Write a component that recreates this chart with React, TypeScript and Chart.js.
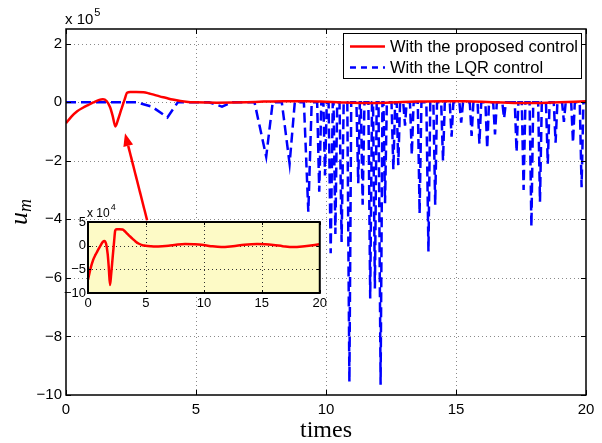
import React, { useEffect, useRef } from "react";
import { Chart, registerables } from "chart.js";
Chart.register(...registerables);

// ---------- data ----------
const xTicks = [0, 5, 10, 15, 20];
const yTicks = [-10, -8, -6, -4, -2, 0, 2]; // ×10^5
const insetXTicks = [0, 5, 10, 15, 20];
const insetYTicks = [-10, -5, 0, 5]; // ×10^4

const seriesLabels = ["With the proposed control", "With the LQR control"];

// proposed control, values in units of 10^4
const redT = [0, 0.2, 0.43, 0.65, 0.85, 1.05, 1.28, 1.42, 1.56, 1.7, 1.79, 1.9, 2.0, 2.13, 2.25, 2.35, 2.47, 2.7, 2.98, 3.2, 3.4, 3.6, 3.83, 4.1, 4.4, 4.7, 4.96, 5.4, 5.8, 6.4, 6.95, 7.6, 8.37, 9.1, 9.8, 10.6, 11.5, 12.5, 13.5, 14.6, 15.3, 16.0, 16.8, 17.7, 18.7, 20];
const redV = [-7.2, -5.0, -3.1, -1.9, -1.0, -0.1, 0.8, 1.0, 0.4, -1.8, -4.5, -8.3, -6.0, -2.4, 0.8, 3.2, 3.45, 3.45, 3.4, 3.0, 2.5, 2.0, 1.5, 0.9, 0.4, 0.1, 0.0, -0.1, -0.15, -0.1, 0.0, 0.2, 0.35, 0.3, 0.2, -0.1, -0.3, -0.1, 0.2, 0.35, 0.3, 0.15, -0.1, -0.3, -0.1, 0.3];

// LQR control, values in units of 10^5
const lqrT = [
  0, 2.7, 3.3, 3.9, 4.3, 5.5, 6.0, 6.4,
  7.25, 7.7, 7.95, 8.3, 8.6, 8.8, 9.15, 9.32, 9.45,
  9.66, 9.74, 9.82, 9.9, 9.96, 10.03, 10.1, 10.18, 10.26, 10.29, 10.36, 10.43,
  10.52, 10.6, 10.68, 10.82, 10.9, 10.97, 11.17, 11.24, 11.3, 11.34, 11.41, 11.48,
  11.63, 11.7, 11.77, 11.81, 11.88, 11.95, 12.02, 12.1, 12.17, 12.21, 12.27, 12.34,
  12.52, 12.59, 12.66, 12.72, 12.78, 12.85, 12.97, 13.04, 13.1, 13.23, 13.3, 13.37,
  13.53, 13.6, 13.67, 13.86, 13.94, 14.01, 14.13, 14.2, 14.27, 14.43, 14.5, 14.57,
  14.76, 14.83, 14.9, 15.13, 15.2, 15.27, 15.53, 15.6, 15.67, 15.83, 15.9, 15.97,
  16.13, 16.2, 16.27, 16.43, 16.5, 16.57, 16.78, 16.85, 16.92, 17.26, 17.33, 17.4,
  17.53, 17.6, 17.67, 17.83, 17.9, 17.97, 18.16, 18.23, 18.3, 18.46, 18.53, 18.6,
  18.76, 18.83, 18.9, 19.08, 19.15, 19.22, 19.43, 19.5, 19.57, 19.76, 19.83, 19.9, 20,
];
const lqrV = [
  0, 0, -0.15, -0.52, 0, 0, -0.15, 0,
  0, -1.86, 0, 0, -2.1, 0, 0, -3.74, 0,
  0, -3.06, 0, 0, -2.5, 0, 0, -5.16, 0, 0, -4.5, 0,
  0, -4.77, 0, 0, -9.55, 0, 0, -2.77, 0, 0, -3.5, 0,
  0, -6.7, 0, 0, -6.36, 0, 0, -9.65, 0, 0, -3.45, 0,
  0, -2.3, 0, 0, -2.15, 0, 0, -0.8, 0, 0, -1.8, 0,
  0, -3.8, 0, 0, -5.1, 0, 0, -3.5, 0, 0, -2.0, 0,
  0, -1.18, 0, 0, -0.7, 0, 0, -1.15, 0, 0, -1.42, 0,
  0, -1.58, 0, 0, -1.1, 0, 0, -0.55, 0, 0, -1.7, 0,
  0, -3.0, 0, 0, -4.25, 0, 0, -3.4, 0, 0, -2.1, 0,
  0, -1.38, 0, 0, -0.67, 0, 0, -1.38, 0, 0, -2.9, 0, 0,
];

// annotation arrow (data coordinates of the main axes, ×10^5)
const arrowFrom = { x: 3.12, y: -4.03 };
const arrowTo = { x: 2.27, y: -1.06 };

// ---------- helpers ----------
const SANS = '"Liberation Sans", Arial, sans-serif';
const SERIF = '"Liberation Serif", "Times New Roman", serif';
const fmt = (v: number) => (v < 0 ? "\u2212" + Math.abs(v) : String(v));
const crisp = (v: number) => Math.round(v) + 0.5;

function drawAxesDecor(chart: any, xt: number[], yt: number[], tickLen: number, frameW: number) {
  const { ctx, chartArea: a, scales } = chart;
  ctx.save();
  ctx.lineWidth = frameW;
  ctx.strokeStyle = "#000";
  ctx.setLineDash([]);
  ctx.strokeRect(a.left, a.top, a.right - a.left, a.bottom - a.top);
  ctx.lineWidth = 1;
  ctx.beginPath();
  xt.forEach((v) => {
    const x = crisp(scales.x.getPixelForValue(v));
    ctx.moveTo(x, a.bottom);
    ctx.lineTo(x, a.bottom - tickLen);
    ctx.moveTo(x, a.top);
    ctx.lineTo(x, a.top + tickLen);
  });
  yt.forEach((v) => {
    const y = crisp(scales.y.getPixelForValue(v));
    ctx.moveTo(a.left, y);
    ctx.lineTo(a.left + tickLen, y);
    ctx.moveTo(a.right, y);
    ctx.lineTo(a.right - tickLen, y);
  });
  ctx.stroke();
  ctx.restore();
}

function drawGrid(chart: any, xt: number[], yt: number[], color: string) {
  const { ctx, chartArea: a, scales } = chart;
  ctx.save();
  ctx.strokeStyle = color;
  ctx.lineWidth = 1;
  ctx.setLineDash([1, 3]);
  ctx.beginPath();
  xt.forEach((v) => {
    const x = crisp(scales.x.getPixelForValue(v));
    if (x - a.left < 2 || a.right - x < 2) return;
    ctx.moveTo(x, a.top);
    ctx.lineTo(x, a.bottom);
  });
  yt.forEach((v) => {
    const y = crisp(scales.y.getPixelForValue(v));
    if (y - a.top < 2 || a.bottom - y < 2) return;
    ctx.moveTo(a.left, y);
    ctx.lineTo(a.right, y);
  });
  ctx.stroke();
  ctx.restore();
}

function drawExponent(ctx: CanvasRenderingContext2D, x: number, y: number, base: string, exp: string, size: number, expSize: number) {
  ctx.save();
  ctx.fillStyle = "#000";
  ctx.textBaseline = "alphabetic";
  ctx.textAlign = "left";
  ctx.font = `${size}px ${SANS}`;
  ctx.fillText(base, x, y);
  const w = ctx.measureText(base).width;
  ctx.font = `${expSize}px ${SANS}`;
  ctx.fillText(exp, x + w + 1, y - size * 0.55);
  ctx.restore();
}

const mainPlugin = {
  id: "mainDecor",
  beforeDatasetsDraw(chart: any) {
    drawGrid(chart, xTicks, yTicks, "#8a8a8a");
  },
  afterDatasetsDraw(chart: any) {
    const { ctx, chartArea: a, scales } = chart;
    drawAxesDecor(chart, xTicks, yTicks, 5, 1.5);

    // arrow
    const x1 = scales.x.getPixelForValue(arrowFrom.x);
    const y1 = scales.y.getPixelForValue(arrowFrom.y);
    const x2 = scales.x.getPixelForValue(arrowTo.x);
    const y2 = scales.y.getPixelForValue(arrowTo.y);
    const ang = Math.atan2(y2 - y1, x2 - x1);
    const hl = 13, hw = 5;
    const bx = x2 - hl * Math.cos(ang), by = y2 - hl * Math.sin(ang);
    ctx.save();
    ctx.strokeStyle = "#ff0000";
    ctx.fillStyle = "#ff0000";
    ctx.lineWidth = 2.5;
    ctx.beginPath();
    ctx.moveTo(x1, y1);
    ctx.lineTo(bx, by);
    ctx.stroke();
    ctx.beginPath();
    ctx.moveTo(x2, y2);
    ctx.lineTo(bx + hw * Math.sin(ang), by - hw * Math.cos(ang));
    ctx.lineTo(bx - hw * Math.sin(ang), by + hw * Math.cos(ang));
    ctx.closePath();
    ctx.fill();
    ctx.restore();

    // legend
    const ds = chart.data.datasets;
    ctx.save();
    ctx.font = `16.5px ${SANS}`;
    const tw = Math.max(...ds.map((d: any) => ctx.measureText(d.label).width));
    const right = a.right - 5;
    const left = right - (47 + tw + 3);
    const top = a.top + 4;
    const h = 45;
    ctx.fillStyle = "#fff";
    ctx.fillRect(left, top, right - left, h);
    ctx.strokeStyle = "#000";
    ctx.lineWidth = 1;
    ctx.strokeRect(crisp(left), crisp(top), Math.round(right - left), h);
    ds.forEach((d: any, i: number) => {
      const cy = top + 13.5 + i * 21;
      ctx.strokeStyle = d.borderColor;
      ctx.lineWidth = 2.5;
      ctx.setLineDash(i === 1 ? [6, 5] : []);
      ctx.beginPath();
      ctx.moveTo(left + 7, cy);
      ctx.lineTo(left + 42, cy);
      ctx.stroke();
      ctx.setLineDash([]);
      ctx.fillStyle = "#000";
      ctx.textBaseline = "middle";
      ctx.textAlign = "left";
      ctx.fillText(d.label, left + 47, cy + 1);
    });
    ctx.restore();

    // exponent label
    drawExponent(ctx, a.left - 1, 24, "x 10", "5", 15, 11);

    // x title
    ctx.save();
    ctx.fillStyle = "#000";
    ctx.font = `24px ${SERIF}`;
    ctx.textAlign = "center";
    ctx.textBaseline = "alphabetic";
    ctx.fillText("times", (a.left + a.right) / 2, 437);
    ctx.restore();

    // y title u_m
    ctx.save();
    ctx.fillStyle = "#000";
    ctx.translate(27, (a.top + a.bottom) / 2);
    ctx.rotate(-Math.PI / 2);
    ctx.textBaseline = "alphabetic";
    ctx.textAlign = "left";
    ctx.font = `italic 26px ${SERIF}`;
    const uw = ctx.measureText("u").width;
    ctx.font = `italic 18px ${SERIF}`;
    const mw = ctx.measureText("m").width;
    const start = -(uw + mw) / 2;
    ctx.font = `italic 26px ${SERIF}`;
    ctx.fillText("u", start, 0);
    ctx.font = `italic 18px ${SERIF}`;
    ctx.fillText("m", start + uw, 4);
    ctx.restore();
  },
};

const insetPlugin = {
  id: "insetDecor",
  beforeDatasetsDraw(chart: any) {
    const { ctx, chartArea: a } = chart;
    ctx.save();
    ctx.fillStyle = "#fdfac6";
    ctx.fillRect(a.left, a.top, a.right - a.left, a.bottom - a.top);
    ctx.restore();
    drawGrid(chart, insetXTicks, insetYTicks, "#333");
  },
  afterDatasetsDraw(chart: any) {
    const { ctx, chartArea: a } = chart;
    drawAxesDecor(chart, insetXTicks, insetYTicks, 3, 2);
    drawExponent(ctx, a.left - 1, a.top - 5, "x 10", "4", 12, 9);
  },
};

export default function App() {
  const mainRef = useRef<HTMLCanvasElement>(null);
  const insetRef = useRef<HTMLCanvasElement>(null);

  useEffect(() => {
    const tickFont = { family: SANS, size: 15 };
    const main = new Chart(mainRef.current as HTMLCanvasElement, {
      type: "line",
      data: {
        datasets: [
          {
            label: seriesLabels[0],
            data: redT.map((t, i) => ({ x: t, y: redV[i] / 10 })),
            borderColor: "#ff0000",
            borderWidth: 2.5,
            pointRadius: 0,
            cubicInterpolationMode: "monotone",
            fill: false,
          },
          {
            label: seriesLabels[1],
            data: lqrT.map((t, i) => ({ x: t, y: lqrV[i] })),
            borderColor: "#0000ff",
            borderWidth: 2.5,
            borderDash: [10, 5],
            pointRadius: 0,
            tension: 0,
            fill: false,
          },
        ],
      },
      options: {
        animation: false,
        responsive: false,
        devicePixelRatio: 1,
        layout: { padding: { left: 0, right: 16, top: 29, bottom: 0 } },
        plugins: { legend: { display: false }, tooltip: { enabled: false } },
        scales: {
          x: {
            type: "linear",
            min: 0,
            max: 20,
            afterBuildTicks: (s: any) => { s.ticks = xTicks.map((v) => ({ value: v })); },
            afterFit: (s: any) => { s.height = 48; },
            grid: { display: false, drawTicks: false },
            border: { display: false },
            ticks: { font: tickFont, color: "#000", padding: 6, maxRotation: 0, autoSkip: false, callback: (v: any) => fmt(Number(v)) },
          },
          y: {
            type: "linear",
            min: -10,
            max: 2.5,
            afterBuildTicks: (s: any) => { s.ticks = yTicks.map((v) => ({ value: v })); },
            afterFit: (s: any) => { s.width = 66; },
            grid: { display: false, drawTicks: false },
            border: { display: false },
            ticks: { font: tickFont, color: "#000", padding: 4, autoSkip: false, callback: (v: any) => fmt(Number(v)) },
          },
        },
      },
      plugins: [mainPlugin],
    } as any);

    const insetFont = { family: SANS, size: 13 };
    const inset = new Chart(insetRef.current as HTMLCanvasElement, {
      type: "line",
      data: {
        datasets: [
          {
            label: seriesLabels[0],
            data: redT.map((t, i) => ({ x: t, y: redV[i] })),
            borderColor: "#ff0000",
            borderWidth: 2.5,
            pointRadius: 0,
            cubicInterpolationMode: "monotone",
            fill: false,
          },
        ],
      },
      options: {
        animation: false,
        responsive: false,
        devicePixelRatio: 1,
        layout: { padding: { left: 0, right: 7, top: 24, bottom: 0 } },
        plugins: { legend: { display: false }, tooltip: { enabled: false } },
        scales: {
          x: {
            type: "linear",
            min: 0,
            max: 20,
            afterBuildTicks: (s: any) => { s.ticks = insetXTicks.map((v) => ({ value: v })); },
            afterFit: (s: any) => { s.height = 21; },
            grid: { display: false, drawTicks: false },
            border: { display: false },
            ticks: { font: insetFont, color: "#000", padding: 3, maxRotation: 0, autoSkip: false, callback: (v: any) => fmt(Number(v)) },
          },
          y: {
            type: "linear",
            min: -10,
            max: 5,
            afterBuildTicks: (s: any) => { s.ticks = insetYTicks.map((v) => ({ value: v })); },
            afterFit: (s: any) => { s.width = 30; },
            grid: { display: false, drawTicks: false },
            border: { display: false },
            ticks: { font: insetFont, color: "#000", padding: 2, autoSkip: false, callback: (v: any) => fmt(Number(v)) },
          },
        },
      },
      plugins: [insetPlugin],
    } as any);

    return () => {
      main.destroy();
      inset.destroy();
    };
  }, []);

  return (
    <div style={{ position: "absolute", left: 0, top: 0, width: 602, height: 443, background: "#fff" }}>
      <canvas ref={mainRef} width={602} height={443} style={{ position: "absolute", left: 0, top: 0, width: 602, height: 443 }} />
      <canvas ref={insetRef} width={272} height={116} style={{ position: "absolute", left: 58, top: 198, width: 272, height: 116 }} />
    </div>
  );
}
